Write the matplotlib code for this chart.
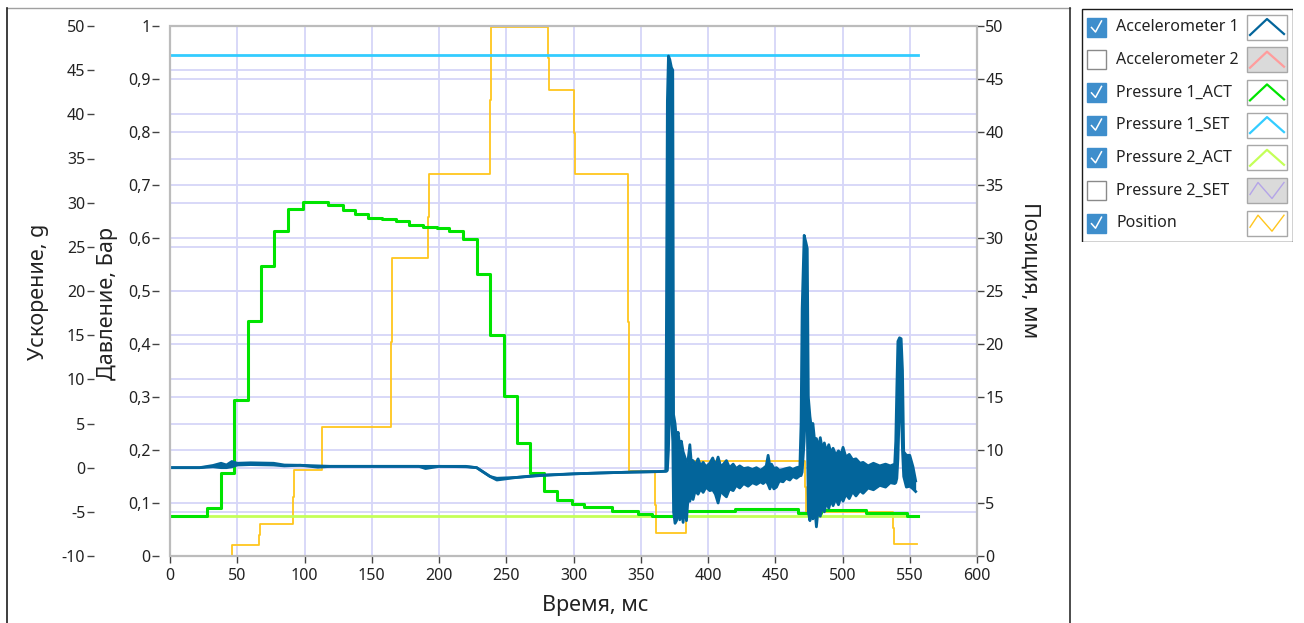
import matplotlib
matplotlib.use("Agg")
import matplotlib.pyplot as plt
from matplotlib.lines import Line2D
from matplotlib.patches import Rectangle
from matplotlib.ticker import FuncFormatter, MultipleLocator

# ---- data (time in ms) ----
# Accelerometer 1: centre line in calm parts, upper/lower envelope where it rings
acc_t = [0, 22, 32, 38, 42, 46, 50, 60, 77, 85, 97, 110, 120, 185, 190, 200, 220,
         228, 238, 243, 258, 275, 300, 320, 344, 362, 368.6,
         369.2, 369.8, 370.6, 371.6, 372.8, 373.8, 374.4,
         375.5, 376.6, 377.8, 379.0, 380.2, 381.5, 382.8, 384.0, 385.2, 386.5,
         387.7, 388.9, 390.5, 392.6, 394.5, 396.4, 398.5, 401.3, 403.5, 405.5,
         407.5, 409.5, 411.5, 413.7, 416.0, 418.7, 421.0, 423.6, 426.5, 429.8,
         433.0, 436.0, 439.0, 441.0, 443.3, 444.7, 446.0, 447.2, 449.0, 450.9,
         453.0, 455.8, 458.0, 460.8, 463.0, 465.8, 468.3,
         469.2, 470.0, 471.5, 472.8, 473.8, 474.6,
         475.8, 476.9, 478.0, 479.3, 480.6, 482.0, 483.5, 485.0, 486.5, 488.1,
         489.8, 491.5, 493.0, 495.0, 497.0, 499.0, 500.4, 502.5, 505.0, 507.5,
         510.0, 513.0, 515.3, 519.0, 523.0, 527.7, 532.0, 535.5, 538.8,
         539.6, 540.4, 541.2, 542.4, 543.6, 544.6, 545.5, 547.5, 550.0, 552.4, 554.4]
acc_hi = [0.0, 0.0, 0.25, 0.5, 0.3, 0.7, 0.5, 0.55, 0.5, 0.3, 0.27, 0.2, 0.15, 0.15, 0.15, 0.15, 0.15,
          0.0, -1.0, -1.2, -1.1, -0.85, -0.7, -0.6, -0.5, -0.45, -0.4,
          20.0, 41.5, 46.6, 46.2, 45.3, 45.0, 6.0,
          5.0, 3.2, 4.0, 2.4, 3.0, 1.8, 1.2, 0.6, 0.9, 2.6,
          0.4, 0.8, 0.3, 1.0, 0.2, 0.6, 0.1, 0.5, 1.1, 0.2,
          1.2, 0.1, 0.4, 0.8, 0.0, 0.4, -0.1, 0.2, -0.1, 0.0,
          -0.2, 0.0, -0.3, -0.1, 0.2, 1.4, 0.2, 0.4, -0.1, 0.0,
          -0.3, -0.2, -0.1, 0.0, -0.2, 0.0, 0.1,
          5.0, 18.0, 26.3, 25.5, 24.8, 8.0,
          5.8, 4.5, 5.0, 3.0, 3.3, 2.2, 3.4, 2.0, 2.8, 1.8,
          2.6, 1.6, 2.2, 1.4, 1.9, 1.5, 2.3, 1.2, 1.5, 0.9,
          1.0, 0.5, 0.6, 0.2, 0.5, 0.2, 0.4, 0.2, 0.4,
          3.0, 9.0, 14.3, 14.7, 14.6, 11.0, 1.8, 1.4, 1.4, 0.1, -1.5]
acc_lo = [0.0, 0.0, 0.1, 0.0, 0.0, 0.1, 0.3, 0.35, 0.3, 0.2, 0.27, 0.05, 0.15, 0.15, -0.1, 0.15, 0.1,
          0.0, -1.0, -1.4, -1.1, -0.9, -0.7, -0.6, -0.5, -0.45, -0.4,
          -0.4, -0.3, 2.0, 8.0, 6.0, 3.0, -5.0,
          -6.3, -6.0, -4.5, -5.9, -4.8, -6.2, -4.0, -6.0, -3.4, -3.8,
          -2.9, -3.6, -2.6, -3.0, -2.4, -2.8, -2.2, -2.6, -2.5, -3.0,
          -4.0, -2.6, -3.0, -3.3, -2.4, -2.6, -2.0, -2.3, -1.8, -2.1,
          -1.7, -1.9, -1.6, -1.8, -1.5, -1.9, -2.4, -1.8, -2.4, -2.2,
          -1.5, -1.6, -1.2, -1.4, -1.0, -1.2, -0.9,
          -0.9, -0.5, 3.0, 8.0, 5.0, -5.0,
          -6.0, -4.0, -5.8, -4.4, -6.7, -4.5, -5.5, -4.2, -5.0, -3.8,
          -4.6, -3.6, -4.3, -3.5, -4.2, -3.2, -3.8, -3.0, -3.5, -2.7,
          -3.2, -2.6, -2.9, -2.3, -2.5, -2.0, -2.2, -1.7, -1.8,
          -1.7, -1.2, 1.0, 7.5, 7.5, 2.0, -1.0, -2.2, -2.1, -2.4, -2.7]

# Pressure 1_ACT (bar), step trace
p1_act_t = [0, 27.3, 37.9, 47.6, 58.0, 67.6, 77.5, 87.7, 98.6, 117.2,
            128.4, 137.5, 147.2, 157.6, 168.0, 177.6, 188.0, 198.2, 207.4, 217.5,
            228.0, 237.8, 248.2, 257.9, 267.6, 278.0, 287.6, 298.6, 307.7, 328.3,
            347.8, 358.0, 378.3, 420.0, 466.7, 484.3, 517.5, 548.0, 556.0]
p1_act_v = [0.076, 0.090, 0.157, 0.294, 0.443, 0.548, 0.614, 0.655, 0.668, 0.662,
            0.652, 0.646, 0.637, 0.635, 0.633, 0.624, 0.621, 0.618, 0.614, 0.598,
            0.532, 0.417, 0.302, 0.214, 0.157, 0.123, 0.106, 0.099, 0.092, 0.085,
            0.079, 0.075, 0.084, 0.089, 0.082, 0.086, 0.081, 0.076, 0.076]

# Pressure 1_SET and Pressure 2_ACT (bar), constant
p1_set_t = [0, 556.5]
p1_set_v = [0.945, 0.945]
p2_act_t = [0, 556.0]
p2_act_v = [0.076, 0.076]

# Position (mm), step trace
pos_t = [0, 45.9, 66.1, 66.6, 91.2, 92.0, 112.7, 164.0, 165.0, 191.8, 192.5,
         237.8, 238.6, 280.9, 281.7, 300.3, 301.0, 340.6, 341.6, 360.5, 361.3,
         384.0, 471.9, 472.7, 537.4, 538.2, 555.2]
pos_v = [0.0, 1.04, 2.0, 3.05, 5.6, 8.08, 12.2, 20.2, 28.1, 32.0, 36.0,
         43.0, 49.9, 47.0, 44.0, 39.9, 36.0, 22.1, 8.05, 4.8, 2.14,
         8.99, 6.5, 4.15, 2.6, 1.1, 1.1]

x_ticks = list(range(0, 601, 50))

legend_names = ["Accelerometer 1", "Accelerometer 2", "Pressure 1_ACT", "Pressure 1_SET",
                "Pressure 2_ACT", "Pressure 2_SET", "Position"]
legend_checked = [True, False, True, True, True, False, True]
legend_shapes = ["peak", "peak", "peak", "peak", "peak", "wave", "wave"]

# ---- styling ----
C_ACC1 = "#03659b"
C_ACC2 = "#ff9c9c"
C_P1ACT = "#00e400"
C_P1SET = "#33ccff"
C_P2ACT = "#c4ff58"
C_P2SET = "#b4a4e8"
C_POS = "#ffc61e"
legend_colors = [C_ACC1, C_ACC2, C_P1ACT, C_P1SET, C_P2ACT, C_P2SET, C_POS]
GRID = "#d6d6f8"
TXT = "#222222"
TICK_FS = 11.5
LABEL_FS = 15.5

plt.rcParams["font.family"] = ["Noto Sans", "DejaVu Sans"]
plt.rcParams["axes.unicode_minus"] = False

W, H = 1304, 623
fig = plt.figure(figsize=(W / 100, H / 100), dpi=100)


def fx(px):
    return px / W


def fy(py):
    return 1 - py / H


rect = [fx(170), fy(556), fx(977) - fx(170), fy(26) - fy(556)]

# base axes: time + acceleration scale, grid
ax = fig.add_axes(rect)
ax.set_xlim(0, 600)
ax.set_ylim(-10, 50)
ax.set_xticks(x_ticks)
ax.yaxis.set_major_locator(MultipleLocator(5))
ax.grid(True, color=GRID, lw=1.3)
ax.set_axisbelow(True)
for s in ax.spines.values():
    s.set_visible(False)
ax.spines["left"].set_position(("outward", 55))
ax.tick_params(axis="x", direction="out", length=5, width=1, pad=4, labelsize=TICK_FS,
               color="#444444", labelcolor=TXT)
ax.tick_params(axis="y", direction="out", length=5, width=1, pad=1, labelsize=TICK_FS,
               color="#444444", labelcolor=TXT)
ax.set_xlabel("Время, мс", fontsize=LABEL_FS, color=TXT, va="center")
ax.xaxis.set_label_coords((595 - 170) / 807, (556 - 606) / 530)
ax.set_ylabel("Ускорение, g", fontsize=LABEL_FS, color=TXT, va="center")
ax.yaxis.set_label_coords((38 - 170) / 807, (556 - 292) / 530)

# position axis (right)
ax_pos = ax.twinx()
ax_pos.set_ylim(0, 50)
ax_pos.yaxis.set_major_locator(MultipleLocator(5))
ax_pos.grid(True, axis="y", color=GRID, lw=1.3)
for s in ax_pos.spines.values():
    s.set_visible(False)
ax_pos.tick_params(axis="y", direction="out", length=5, width=1, pad=1, labelsize=TICK_FS,
                   color="#444444", labelcolor=TXT)
ax_pos.set_ylabel("Позиция, мм", fontsize=LABEL_FS, color=TXT, rotation=270, va="center")
ax_pos.yaxis.set_label_coords((1030 - 170) / 807, (556 - 270) / 530)
ax_pos.plot(pos_t, pos_v, drawstyle="steps-post", color=C_POS, lw=1.3)

# pressure axis (inner left)
ax_p = ax.twinx()
ax_p.yaxis.tick_left()
ax_p.yaxis.set_label_position("left")
ax_p.set_ylim(0, 1)
ax_p.yaxis.set_major_locator(MultipleLocator(0.1))
ax_p.yaxis.set_major_formatter(FuncFormatter(lambda v, _: ("%g" % round(v, 2)).replace(".", ",")))
for s in ax_p.spines.values():
    s.set_visible(False)
ax_p.spines["left"].set_position(("outward", 8))
ax_p.tick_params(axis="y", direction="out", length=5, width=1, pad=1, labelsize=TICK_FS,
                 color="#444444", labelcolor=TXT)
ax_p.set_ylabel("Давление, Бар", fontsize=LABEL_FS, color=TXT, va="center")
ax_p.yaxis.set_label_coords((108 - 170) / 807, (556 - 303) / 530)
ax_p.plot(p2_act_t, p2_act_v, drawstyle="steps-post", color=C_P2ACT, lw=2.0)
ax_p.plot(p1_set_t, p1_set_v, drawstyle="steps-post", color=C_P1SET, lw=2.0)
ax_p.plot(p1_act_t, p1_act_v, drawstyle="steps-post", color=C_P1ACT, lw=2.2)

# accelerometer on top, same scale as the base axes
ax_a = fig.add_axes(rect, sharex=ax, sharey=ax)
ax_a.set_axis_off()
ax_a.patch.set_visible(False)
ax_a.fill_between(acc_t, acc_lo, acc_hi, color=C_ACC1, lw=0)
ax_a.plot(acc_t, acc_hi, color=C_ACC1, lw=2.0, solid_joinstyle="round")
ax_a.plot(acc_t, acc_lo, color=C_ACC1, lw=2.0, solid_joinstyle="round")
ax_a.add_patch(Rectangle((0, 0), 1, 1, transform=ax_a.transAxes, fill=False,
                         ec="#bcbcbc", lw=1.6, clip_on=False, zorder=10))

# outer frame of the chart panel
fig.add_artist(Line2D([fx(7), fx(1070)], [fy(8), fy(8)], color="#a0a0a0", lw=1.0))
fig.add_artist(Line2D([fx(7), fx(7)], [fy(8), 0], color="#1e1e1e", lw=1.2))
fig.add_artist(Line2D([fx(1070), fx(1070)], [fy(8), 0], color="#2e2e2e", lw=1.2))

# ---- legend panel (pixel units inside its own axes) ----
lx0, ly0, lx1, ly1 = 1081, 8, 1293, 242
lax = fig.add_axes([fx(lx0), fy(ly1), fx(lx1) - fx(lx0), fy(ly0) - fy(ly1)])
lax.set_xlim(0, lx1 - lx0)
lax.set_ylim(ly1 - ly0, 0)
lax.set_axis_off()
lax.add_patch(Rectangle((0.5, 0.5), lx1 - lx0 - 1, ly1 - ly0 - 1, fill=False, ec="#1a1a1a", lw=1.0))

row0, row_step = 19, 32.7
for i, name in enumerate(legend_names):
    yc = row0 + i * row_step
    if legend_checked[i]:
        lax.add_patch(Rectangle((6, yc - 9.5), 19, 19, fc="#3e8ecc", ec="#3e8ecc", lw=1))
        lax.plot([10.5, 14.5, 20.5], [yc + 0.5, yc + 5, yc - 6], color="white", lw=1.1)
    else:
        lax.add_patch(Rectangle((6, yc - 9.5), 19, 19, fc="white", ec="#8a8a8a", lw=1))
    lax.text(35, yc, name, fontsize=11.5, color=TXT, va="center", ha="left")
    sw_fc = "white" if legend_checked[i] else "#dadada"
    lax.add_patch(Rectangle((166, yc - 12.5), 40, 25, fc=sw_fc, ec="#a8a8a8", lw=1))
    if legend_shapes[i] == "peak":
        xs = [169, 186, 203]
        ys = [yc + 8, yc - 8, yc + 7]
    else:
        xs = [169, 177, 191, 203]
        ys = [yc + 4, yc - 8, yc + 8, yc - 8]
    lax.plot(xs, ys, color=legend_colors[i], lw=1.6 if i < 5 else 1.0)

fig.savefig("out.png", dpi=100)
